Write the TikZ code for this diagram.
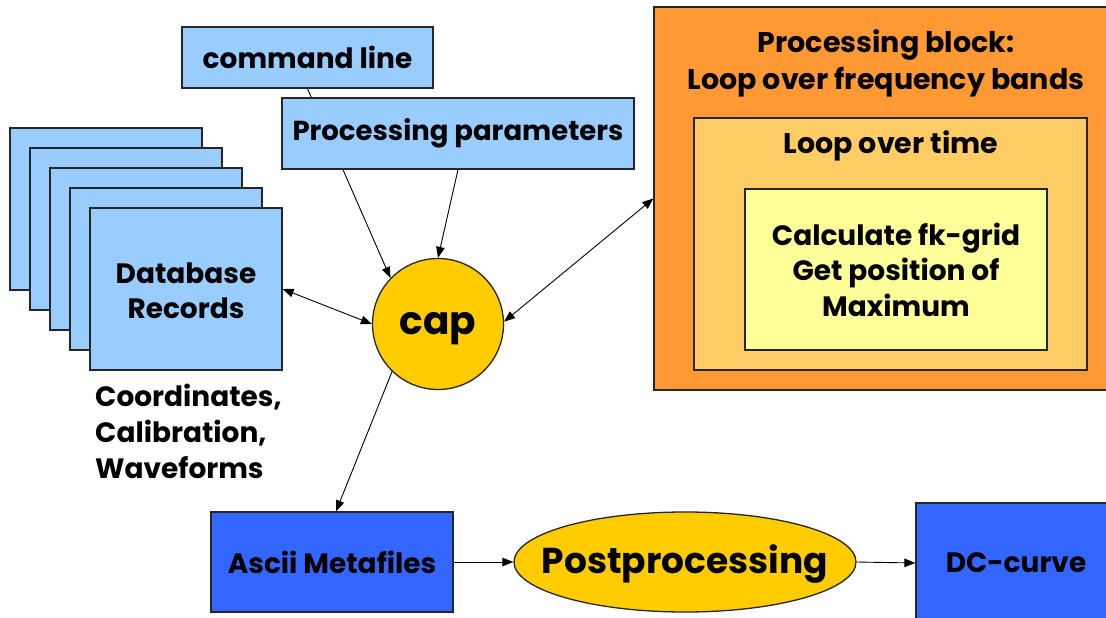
\documentclass[tikz,border=0pt]{standalone}
\usepackage{fontspec}
\setmainfont{Poppins}
\usetikzlibrary{arrows.meta,shapes.geometric}
\definecolor{lightblue}{HTML}{99CCFF}
\definecolor{deepblue}{HTML}{3366FF}
\definecolor{capgold}{HTML}{FFCC00}
\definecolor{outerorange}{HTML}{FF9933}
\definecolor{midorange}{HTML}{FFCC66}
\definecolor{paleyellow}{HTML}{FFFF99}
\newcommand{\fs}[2]{\bfseries\fontsize{#1}{#2}\selectfont}
\tikzset{
  box/.style={draw=black!85, line width=1.3pt, rectangle, inner sep=0pt, font=\bfseries},
  lbl/.style={inner sep=0pt, font=\bfseries, align=center},
  flow/.style={line width=0.9pt, -{Triangle[length=11pt,width=8.5pt]}},
  both/.style={line width=0.9pt, {Triangle[length=11pt,width=8.5pt]}-{Triangle[length=11pt,width=8.5pt]}},
}
\begin{document}
\begin{tikzpicture}[x=1pt, y=-1pt]
\useasboundingbox (0,0) rectangle (1106,618);
\fill[white] (0,0) rectangle (1106,618);

% processing block (nested loops)
\node[box, fill=outerorange, minimum width=470pt, minimum height=383pt] (outer) at (889,198.5) {};
\node[lbl, font=\fs{28.5}{37}] (outerlbl) at (886,63.5) {Processing block:\\Loop over frequency bands};
\node[box, fill=midorange, minimum width=393pt, minimum height=252pt] (mid) at (890.5,244) {};
\node[lbl, font=\fs{28.5}{34}] (midlbl) at (891,146) {Loop over time};
\node[box, fill=paleyellow, minimum width=302pt, minimum height=161pt, align=center,
      font=\fs{28}{35.5}] (inner) at (896,269.5)
      {Calculate fk-grid\\Get position of\\Maximum};

% command line feeds cap (line passes behind the parameter box)
\node[box, fill=lightblue, minimum width=251pt, minimum height=61pt,
      font=\fs{28}{34}] (cmd) at (307.5,57.5) {command line};
\node[box, circle, fill=capgold, minimum size=131pt] (cap) at (438,324) {};
\node[lbl, font=\fs{39}{46}] (caplbl) at (438,329) {cap};
\draw[flow] (cmd.south) -- (cap.136);
\node[box, fill=lightblue, minimum width=352pt, minimum height=71pt,
      font=\fs{27.5}{34}] (pp) at (458,133.5) {Processing parameters};
\draw[flow] (pp.south) -- (cap.90);

% stack of database records
\foreach \i/\d in {1/80,2/60,3/40,4/20}
  \node[box, fill=lightblue, minimum width=192pt, minimum height=162pt] (db\i) at (186-\d,289-\d) {};
\node[box, fill=lightblue, minimum width=192pt, minimum height=162pt] (db) at (186,289) {};
\node[lbl, font=\fs{28}{35}] (dblbl) at (186,291) {Database\\Records};
\node[lbl, align=left, anchor=west, font=\fs{28}{36}] (dbinfo) at (95,431)
      {Coordinates,\\Calibration,\\Waveforms};

\draw[both] (db.east) -- (cap.180);
\draw[both] (cap.2) -- (outer.west);

% output chain
\node[box, fill=deepblue, minimum width=242pt, minimum height=100pt,
      font=\fs{28}{34}] (ascii) at (332,562) {Ascii Metafiles};
\node[box, ellipse, fill=capgold, minimum width=342pt, minimum height=100pt] (post) at (685,562) {};
\node[lbl, font=\fs{36}{42}] (postlbl) at (685,564) {Postprocessing};
\node[box, fill=deepblue, minimum width=200pt, minimum height=120pt,
      font=\fs{28}{34}] (dc) at (1016,563) {DC-curve};

\draw[flow] (cap.226) -- ([xshift=4pt]ascii.north);
\draw[flow] (ascii.east) -- (post.west);
\draw[flow] (post.east) -- (dc.west);
\end{tikzpicture}
\end{document}
